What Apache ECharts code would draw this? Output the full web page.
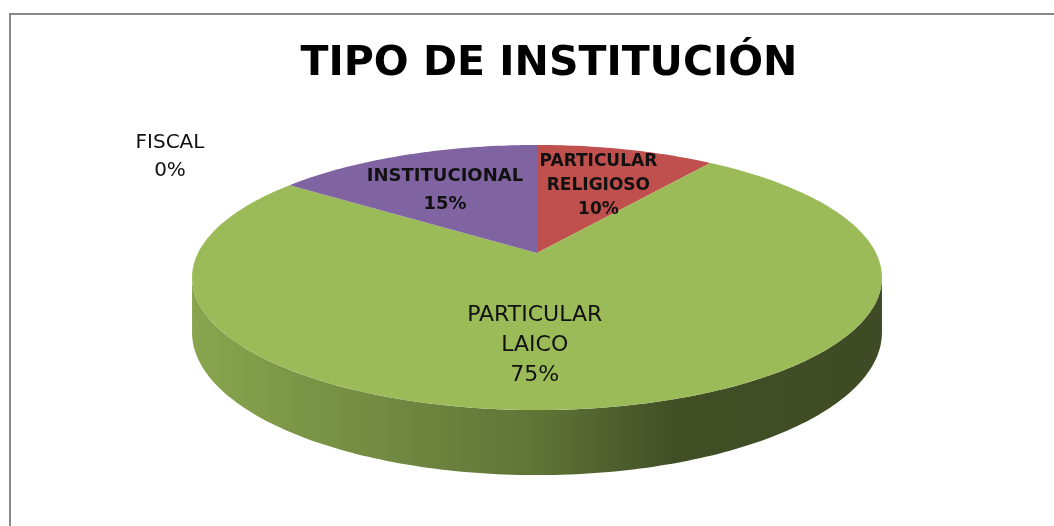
<!DOCTYPE html>
<html>
<head>
<meta charset="utf-8">
<title>Tipo de institución</title>
<script src="https://cdn.jsdelivr.net/npm/echarts@6/dist/echarts.min.js"></script>
<style>
  html, body { margin: 0; padding: 0; background: #fff; }
  #chart { width: 1054px; height: 526px; }
</style>
</head>
<body>
<div id="chart"></div>
<script>
// datos del gráfico
const categorias = ['FISCAL', 'PARTICULAR RELIGIOSO', 'PARTICULAR LAICO', 'INSTITUCIONAL'];
const porcentajes = [0, 10, 75, 15];
const etiquetas = ['FISCAL\n0%', 'PARTICULAR\nRELIGIOSO\n10%', 'PARTICULAR\nLAICO\n75%', 'INSTITUCIONAL\n15%'];
const colores = ['#4F81BD', '#C0504D', '#9BBB59', '#8064A2'];

// geometría del pastel 3D (perspectiva simple)
const pie = { cx: 537, cy: 253, rx: 339, ry: 128, k: 0.185, depth: 53 };
// etiquetas: radio relativo, desplazamiento y estilo
const labelR = [1, 0.63, 0.63, 0.6];
const labelShift = [[-367, 12], [2, 2], [-40, 2], [-8, 0]];
const labelSize = [20, 17, 22, 18];
const labelWeight = ['normal', 'bold', 'normal', 'bold'];
const labelLine = [28, 24, 30, 28];

const total = porcentajes.reduce((a, b) => a + b, 0);
const inicio = [];
porcentajes.reduce((acc, v, i) => { inicio[i] = acc; return acc + v; }, 0);

// punto del disco (r relativo, ángulo en grados desde arriba, sentido horario)
function proj(r, deg, drop) {
  const a = deg * Math.PI / 180;
  const u = r * Math.sin(a), v = -r * Math.cos(a);
  const s = 1 / (1 - pie.k * v);
  return [pie.cx + pie.rx * u * s, pie.cy + pie.ry * v * s + (drop || 0) * s];
}

function arco(a0, a1, drop) {
  const pts = [];
  const n = Math.max(2, Math.ceil(Math.abs(a1 - a0)));
  for (let i = 0; i <= n; i++) pts.push(proj(1, a0 + (a1 - a0) * i / n, drop));
  return pts;
}

function sombra(hex, f) {
  const n = parseInt(hex.slice(1), 16);
  const c = [(n >> 16) & 255, (n >> 8) & 255, n & 255].map(x => Math.round(x * f));
  return 'rgb(' + c.join(',') + ')';
}

function angulos(i) {
  const a0 = inicio[i] / total * 360;
  return [a0, a0 + porcentajes[i] / total * 360];
}

// límites visibles del costado
const borde = Math.acos(-pie.k) * 180 / Math.PI;

const chart = echarts.init(document.getElementById('chart'));
const datos = porcentajes.map((v, i) => ({ value: v, name: categorias[i] }));

chart.setOption({
  animation: false,
  title: {
    text: 'TIPO DE INSTITUCIÓN',
    left: 544,
    top: 39,
    textAlign: 'center',
    textStyle: { fontFamily: 'DejaVu Sans', fontWeight: 'bold', fontSize: 41, color: '#000' }
  },
  graphic: [
    { type: 'line', shape: { x1: 9, y1: 14, x2: 1054, y2: 14 }, style: { stroke: '#888', lineWidth: 2 } },
    { type: 'line', shape: { x1: 10, y1: 13, x2: 10, y2: 526 }, style: { stroke: '#888', lineWidth: 2 } }
  ],
  series: [
    {
      name: 'lados',
      type: 'custom',
      coordinateSystem: 'none',
      silent: true,
      z: 1,
      data: datos,
      renderItem: function (params) {
        const i = params.dataIndex;
        const [a0, a1] = angulos(i);
        const aa = Math.max(a0, borde), bb = Math.min(a1, 360 - borde);
        if (bb <= aa) return { type: 'group', children: [] };
        const pts = arco(aa, bb, 0).concat(arco(bb, aa, pie.depth));
        const c = colores[i];
        return {
          type: 'polygon',
          shape: { points: pts },
          style: {
            fill: new echarts.graphic.LinearGradient(0, 0, 1, 0, [
              { offset: 0, color: sombra(c, 0.88) },
              { offset: 0.5, color: sombra(c, 0.62) },
              { offset: 0.7, color: sombra(c, 0.42) },
              { offset: 1, color: sombra(c, 0.40) }
            ])
          }
        };
      }
    },
    {
      name: 'caras',
      type: 'custom',
      coordinateSystem: 'none',
      silent: true,
      z: 2,
      data: datos,
      renderItem: function (params) {
        const i = params.dataIndex;
        const [a0, a1] = angulos(i);
        if (a1 - a0 <= 0) return { type: 'group', children: [] };
        const pts = [proj(0, 0)].concat(arco(a0, a1, 0));
        return { type: 'polygon', shape: { points: pts }, style: { fill: colores[i] } };
      }
    },
    {
      name: 'etiquetas',
      type: 'custom',
      coordinateSystem: 'none',
      silent: true,
      z: 3,
      data: datos,
      renderItem: function (params) {
        const i = params.dataIndex;
        const [a0, a1] = angulos(i);
        const p = proj(labelR[i], (a0 + a1) / 2);
        return {
          type: 'text',
          x: p[0] + labelShift[i][0],
          y: p[1] + labelShift[i][1],
          style: {
            text: etiquetas[i],
            fill: '#111',
            fontFamily: 'DejaVu Sans',
            fontSize: labelSize[i],
            fontWeight: labelWeight[i],
            lineHeight: labelLine[i],
            align: 'center',
            verticalAlign: 'middle'
          }
        };
      }
    }
  ]
});
</script>
</body>
</html>
